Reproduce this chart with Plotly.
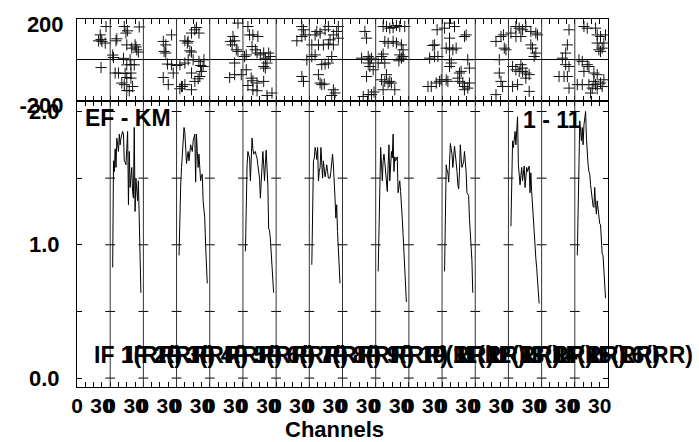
import plotly.graph_objects as go

# ---------------- data ----------------
n_if = 16                 # number of IF segments
chan_per_if = 40          # channel width of each IF segment on the x axis
if_labels = [f"IF {i}(RR)" for i in range(1, 17)]
x_tick_chans = [0, 30]    # tick label positions inside each IF
x_tick_text = ["0", "30"]
amp_tick_vals = [0.0, 0.5, 1.0, 1.5, 2.0]
amp_tick_text = ["0.0", "", "1.0", "", "2.0"]
ph_tick_vals = [-200, 200]
ph_tick_text = ["-200", "200"]

# IFs that carry amplitude spectra, and first channel of each spectrum
hump_if = [2, 4, 6, 8, 10, 12, 14, 16]
first_chan = 3

amp_1 = [0.83, 1.63, 1.55, 1.72, 1.58, 1.80, 1.75, 1.70, 1.83, 1.75, 1.80, 1.84, 1.85, 1.83, 1.63, 1.62, 1.60, 1.72,
         1.85, 1.30, 1.70, 1.43, 1.50, 1.58, 1.40, 1.35, 1.88, 1.25, 1.50, 1.40, 1.33, 1.48, 1.08, 0.85, 0.64]
amp_2 = [0.92, 1.30, 1.45, 1.58, 1.70, 1.85, 1.88, 1.84, 1.75, 1.61, 1.66, 1.70, 1.63, 1.70, 1.75, 1.72, 1.70, 1.78,
         1.80, 1.83, 1.47, 1.83, 1.70, 1.58, 1.68, 1.60, 1.48, 1.52, 1.53, 1.33, 1.25, 1.20, 1.00, 0.85, 0.71]
amp_3 = [0.95, 1.35, 1.60, 1.70, 1.68, 1.65, 1.48, 1.75, 1.80, 1.72, 1.68, 1.69, 1.70, 1.67, 1.65, 1.60, 1.55, 1.50,
         1.35, 1.50, 1.63, 1.70, 1.60, 1.48, 1.60, 1.71, 1.58, 1.45, 1.12, 1.11, 1.05, 0.96, 0.88, 0.76, 0.64]
amp_4 = [0.85, 1.30, 1.63, 1.65, 1.73, 1.70, 1.64, 1.73, 1.48, 1.55, 1.58, 1.73, 1.60, 1.50, 1.63, 1.58, 1.51, 1.55,
         1.60, 1.55, 1.50, 1.50, 1.50, 1.55, 1.60, 1.68, 1.60, 1.50, 1.35, 1.20, 1.30, 1.10, 0.98, 0.85, 0.71]
amp_5 = [0.80, 1.20, 1.40, 1.73, 1.60, 1.48, 1.63, 1.68, 1.62, 1.55, 1.45, 1.40, 1.60, 1.75, 1.48, 1.60, 1.70, 1.65,
         1.83, 1.55, 1.66, 1.63, 1.64, 1.66, 1.39, 1.45, 1.48, 1.40, 1.33, 1.20, 1.08, 0.95, 0.83, 0.70, 0.57]
amp_6 = [0.80, 1.30, 1.60, 1.56, 1.54, 1.47, 1.73, 1.76, 1.72, 1.68, 1.58, 1.66, 1.74, 1.68, 1.63, 1.55, 1.45, 1.42,
         1.55, 1.75, 1.65, 1.58, 1.60, 1.62, 1.70, 1.62, 1.55, 1.39, 1.38, 1.37, 1.20, 1.08, 0.98, 0.88, 0.64]
amp_7 = [1.14, 1.50, 1.78, 1.73, 1.80, 1.85, 1.75, 1.85, 1.96, 1.60, 1.50, 1.45, 1.52, 1.58, 1.48, 1.55, 1.59, 1.43,
         1.50, 1.58, 1.55, 1.57, 1.59, 1.39, 1.54, 1.40, 1.28, 1.20, 1.10, 1.00, 0.90, 0.83, 0.75, 0.68, 0.56]
amp_8 = [0.92, 1.40, 1.75, 1.93, 1.85, 1.78, 1.88, 1.75, 1.90, 1.95, 2.00, 1.80, 1.63, 1.60, 1.55, 1.53, 1.45, 1.38,
         1.30, 1.29, 1.28, 1.43, 1.30, 1.23, 1.33, 1.25, 1.18, 1.16, 1.15, 1.02, 0.93, 0.92, 0.80, 0.70, 0.60]
amp_humps = [amp_1, amp_2, amp_3, amp_4, amp_5, amp_6, amp_7, amp_8]

# phase points: channel relative to the start of the IF in hump_if, and phase (deg)
ph_ch_1 = [-14, -12, -11, -10, -6, -5, -11, 3, 4, 7, 8, 16, 17, 19, 21, 35, 20, 26, 30, 32, 34, 31, 24, 20, 25,
           29, 6, 10, 18, 25, 20, 25, 14, 17, 27, 23, 20]
ph_1 = [93, 122, 100, 90, 82, 163, -38, 23, 11, 93, 103, 7, 163, 131, 142, 161, 73, 57, 73, 49, 38, 63, 0, -25, -23,
        -25, -65, -65, -67, -65, -87, -90, -114, -122, -131, -152, -151]
ph_ch_2 = [-6, -16, -13, -15, -13, -11, -6, -4, -16, -10, 6, 4, 7, 10, 18, 22, 26, 28, 30, 32, 29, 27, 33, 20, 14,
           10, 4, 18, 16, 18, 14, 22, 24, 27, 18, 10, 13, 0]
ph_2 = [122, 90, 73, 41, 33, -21, -24, -65, -87, -122, -131, -142, -131, -122, -147, -106, -93, -82, -57, -33, -28,
        -8, 0, 0, 0, -16, -24, -65, 44, 38, 90, 147, 158, 131, 131, 93, 82, -28]
ph_ch_3 = [-6, -12, -15, -10, -13, -8, -6, -10, -16, -10, 6, 8, 12, 18, 11, 15, 17, 21, 25, 4, 2, 31, 33, 27, 29,
           25, 27, 10, 12, 17, 25, 6, 12, 17, 29, 35, -2, 4]
ph_3 = [180, 114, 90, 93, 73, 49, 41, -16, -87, -73, 163, 122, 122, 114, 65, 49, 33, 24, 33, 24, 16, 33, 16, 8, -16,
        -33, -41, -90, -103, -114, -106, -126, -147, -152, -175, -163, -73, -49]
ph_ch_4 = [-9, -7, -5, -9, -15, 3, 7, 9, 13, 19, 23, 35, 33, 29, 35, 25, 17, 11, 23, 29, 7, 3, 27, -3, 15, 19, 23,
           -9, -7, 11, 13, 15, 18, 29, 31, 27]
ph_4 = [163, 147, 122, 114, 93, 73, 122, 139, 131, 147, 163, 163, 139, 122, 106, 98, 73, 73, 77, 73, 24, 16, 16, 0,
        -24, -21, -16, -82, -106, -73, -114, -122, -119, -147, -163, -175]
ph_ch_5 = [-13, -11, -17, -9, -7, -5, -9, -7, -3, -11, -15, -9, -5, -2, 9, 13, 17, 21, 25, 29, 35, 11, 15, 21, 25,
           31, 33, 9, 7, 3, 11, 29, 31, 33, 28, 13, 7, 11, 15, 17, 19, 23, 9]
ph_5 = [139, 106, 8, 16, 0, 8, -16, -33, -49, -82, -180, -171, -171, -158, 163, 163, 155, 158, 168, 163, 163, 90, 82,
        90, 82, 73, 49, 28, 16, -16, -16, 24, 8, 16, -5, -73, -98, -106, -114, -106, -114, -147, -147]
ph_ch_6 = [-6, -9, -11, -15, -9, -5, -17, -13, -7, -3, 3, 9, 15, 9, 5, 9, 13, 17, 27, 29, 9, 11, 9, 23, 21, 19, 21,
           25, 27, 31, 27, 33, 33, 31, 5, 7, -1]
ph_6 = [147, 73, 70, 8, 16, 16, -131, -131, -114, -106, 155, 180, 163, 106, 57, 57, 49, 57, 114, 122, 0, -16, -33,
        -57, -65, -90, -106, -114, -131, -139, -147, -114, -41, 0, -98, -106, -98]
ph_ch_7 = [-15, -9, -6, -5, -3, -11, -11, -9, -7, -15, 3, 9, 13, 17, 21, 9, 15, 27, 33, 35, 27, 29, 33, 31, 5, 9,
           13, 17, 21, 25, 21, 17, 5, 25, 11, 15]
ph_7 = [90, 114, 122, 57, 49, 0, -65, -106, -131, -171, 131, 163, 155, 147, 163, 114, 114, 139, 131, 122, 73, 57, 33,
        16, -33, -49, -57, -57, -65, -73, -90, -41, -131, -155, -122, -24]
ph_ch_8 = [-7, -9, -11, -15, -11, -7, -19, -13, -9, -7, 11, 15, 25, 27, 31, 29, 31, 33, 27, 5, 9, 15, 17, 11, 23, 27,
           25, 21, 17, 9, 3, 23, 35, 31, 33, 19, 27, 35, 37]
ph_8 = [147, 73, 33, 8, -24, -33, -82, -82, -82, -139, 163, 155, 155, 122, 114, 49, 41, 57, 82, 0, -8, -24, -33, -57,
        -65, -73, -122, -139, -122, -122, -122, -106, -98, -114, -131, -163, -142, 82, 122]
ph_chans = [ph_ch_1, ph_ch_2, ph_ch_3, ph_ch_4, ph_ch_5, ph_ch_6, ph_ch_7, ph_ch_8]
ph_vals = [ph_1, ph_2, ph_3, ph_4, ph_5, ph_6, ph_7, ph_8]

baseline_label = "EF - KM"
stokes_label = "1 - 11"
x_title = "Channels"

# ---------------- figure ----------------
FONT = "Liberation Sans"
fig = go.Figure()

for ifn, amps in zip(hump_if, amp_humps):
    xs = [(ifn - 1) * chan_per_if + first_chan + j for j in range(len(amps))]
    fig.add_trace(go.Scatter(x=xs, y=amps, mode="lines", line=dict(color="black", width=1),
                             xaxis="x", yaxis="y", hoverinfo="skip", showlegend=False))

px_all, py_all = [], []
for ifn, chs, vals in zip(hump_if, ph_chans, ph_vals):
    px_all += [(ifn - 1) * chan_per_if + c for c in chs]
    py_all += vals
fig.add_trace(go.Scatter(x=px_all, y=py_all, mode="markers",
                         marker=dict(symbol="cross-thin", size=8, line=dict(color="#111111", width=1)),
                         xaxis="x2", yaxis="y2", hoverinfo="skip", showlegend=False))

# amplitude tick dashes on each interior IF boundary
bx, by = [], []
for b in range(1, n_if):
    for v in amp_tick_vals:
        bx.append(b * chan_per_if)
        by.append(v)
fig.add_trace(go.Scatter(x=bx, y=by, mode="markers",
                         marker=dict(symbol="line-ew", size=7, line=dict(color="black", width=1)),
                         xaxis="x", yaxis="y", hoverinfo="skip", showlegend=False))

tickvals, ticktext = [], []
for i in range(n_if):
    for c, t in zip(x_tick_chans, x_tick_text):
        tickvals.append(i * chan_per_if + c)
        ticktext.append(t)

xr = [0, n_if * chan_per_if]
split = 288 / 370
common_x = dict(range=xr, showgrid=False, zeroline=False, showline=True, linecolor="black", linewidth=1,
                ticks="inside", ticklen=5, tickcolor="black", tickwidth=1, mirror="ticks",
                minor=dict(dtick=10, tick0=0, ticks="inside", ticklen=5, tickcolor="black", tickwidth=1))

fig.update_layout(
    width=699, height=442,
    margin=dict(l=77, r=91, t=17, b=55),
    paper_bgcolor="white", plot_bgcolor="white",
    showlegend=False,
    xaxis=dict(**common_x, anchor="y", domain=[0, 1], tickmode="array", tickvals=tickvals, ticktext=ticktext,
               tickangle=0, ticklabelstandoff=0,
               tickfont=dict(family=FONT, size=21, color="black", weight="bold")),
    xaxis2=dict(**common_x, anchor="y2", domain=[0, 1], matches="x", showticklabels=False,
                tickmode="array", tickvals=tickvals),
    yaxis=dict(domain=[0, split], range=[-0.067, 2.082], tickmode="array", tickvals=amp_tick_vals,
               ticktext=amp_tick_text, ticks="inside", ticklen=5, tickcolor="black", mirror="ticks",
               showline=True, linecolor="black", linewidth=1, showgrid=False, zeroline=False,
               ticklabelstandoff=12,
               tickfont=dict(family=FONT, size=22, color="black", weight="bold"), anchor="x"),
    yaxis2=dict(domain=[split, 1], range=[-200, 200], tickmode="array", tickvals=ph_tick_vals,
                ticktext=ph_tick_text, ticks="", mirror=True, showline=True, linecolor="black", linewidth=1,
                showgrid=False, zeroline=True, zerolinecolor="black", zerolinewidth=1,
                ticklabelshift=5, ticklabelstandoff=8, ticklabeloverflow="allow",
                tickfont=dict(family=FONT, size=22, color="black", weight="bold"), anchor="x2"),
)

# IF boundary lines spanning both panels
for b in range(1, n_if):
    fig.add_shape(type="line", xref="x", yref="paper", x0=b * chan_per_if, x1=b * chan_per_if, y0=0, y1=1,
                  line=dict(color="#333333", width=1), layer="above")

ann_font = dict(family=FONT, size=23, color="black", weight="bold")
for i, lab in enumerate(if_labels):
    fig.add_annotation(x=i * chan_per_if, y=(387 - 355) / 370, xref="x", yref="paper", text=lab,
                       showarrow=False, xanchor="left", yanchor="middle", xshift=15, font=ann_font)

fig.add_annotation(x=(83 - 77) / 531, y=(387 - 117) / 370, xref="paper", yref="paper", text=baseline_label,
                   showarrow=False, xanchor="left", yanchor="middle", font=ann_font)
fig.add_annotation(x=(583 - 77) / 531, y=(387 - 119) / 370, xref="paper", yref="paper", text=stokes_label,
                   showarrow=False, xanchor="right", yanchor="middle", font=ann_font)
fig.add_annotation(x=(334 - 77) / 531, y=(387 - 430) / 370, xref="paper", yref="paper", text=x_title,
                   showarrow=False, xanchor="center", yanchor="middle",
                   font=dict(family=FONT, size=22, color="black", weight="bold"))

fig.write_html("out.html", config={"displayModeBar": False},
               post_script="document.body.style.margin='0';document.body.style.overflow='hidden';")
